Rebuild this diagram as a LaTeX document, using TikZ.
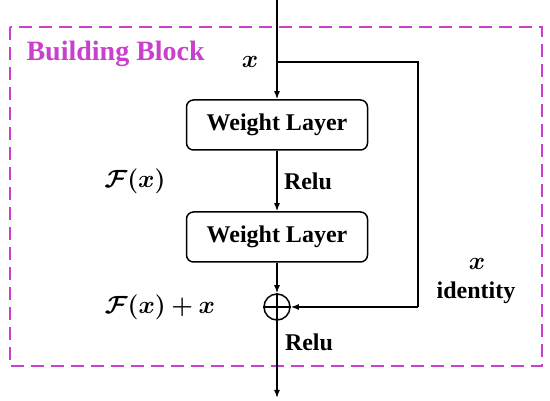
\documentclass[tikz,border=0pt]{standalone}
\usepackage{amsmath}
\usepackage{bm}
\usepackage{fontspec}
\setmainfont{Liberation Serif}
\usetikzlibrary{arrows.meta}
\usetikzlibrary{positioning}
\definecolor{blockpink}{RGB}{200,64,204}

\begin{document}
\begin{tikzpicture}[x=1pt, y=-1pt,
    lbl/.style={font=\bfseries\fontsize{24}{28}\selectfont},
    mathlbl/.style={font=\fontsize{24}{28}\selectfont},
    layer/.style={draw, line width=1.5pt, rounded corners=7pt, minimum width=181pt, minimum height=50pt, lbl},
    flow/.style={line width=1.5pt, -{Latex[length=8pt, width=6pt]}}]
        \useasboundingbox (0,0) rectangle (550,401);

        % Block border
        \draw[blockpink, line width=1.8pt, dash pattern=on 13pt off 7pt] (10,27) rectangle (542,366);
        \node[blockpink, font=\bfseries\fontsize{28}{32}\selectfont, anchor=west] (titolo) at (23,54) {Building Block};

        % Layers and sum
        \node[layer] (wl1) at (277,125) {Weight Layer};
        \node[layer] (wl2) at (277,237) {Weight Layer};
        \node[draw, circle, line width=1.5pt, minimum size=26pt, inner sep=0pt] (somma) at (277,307) {};
        \draw[line width=1.5pt] (somma.north) -- (somma.south) (somma.west) -- (somma.east);

        % Path points
        \coordinate (ingresso) at (277,0);
        \coordinate (ramo) at (277,62);
        \coordinate (angolo1) at (418,62);
        \coordinate (angolo2) at (418,307);
        \coordinate (uscita) at (277,398);

        % Connections
        \draw[flow] (ingresso) -- (wl1);
        \draw[line width=1.5pt] (ramo) -- (angolo1) -- (angolo2);
        \draw[flow] (angolo2) -- (somma);
        \draw[flow] (wl1) -- (wl2);
        \draw[flow] (wl2) -- (somma);
        \draw[flow] (somma) -- (uscita);

        % Labels
        \node[mathlbl] (xin) at (250,62) {$\bm{x}$};
        \node[mathlbl] (fx) at (135,181) {$\bm{\mathcal{F}(x)}$};
        \node[lbl] (relu1) at (308,181) {Relu};
        \node[mathlbl] (fxx) at (160,307) {$\bm{\mathcal{F}(x)+x}$};
        \node[lbl] (relu2) at (309,342) {Relu};
        \node[mathlbl] (xid) at (477,264) {$\bm{x}$};
        \node[lbl] (identity) at (476,293) {identity};
    \end{tikzpicture}
\end{document}
